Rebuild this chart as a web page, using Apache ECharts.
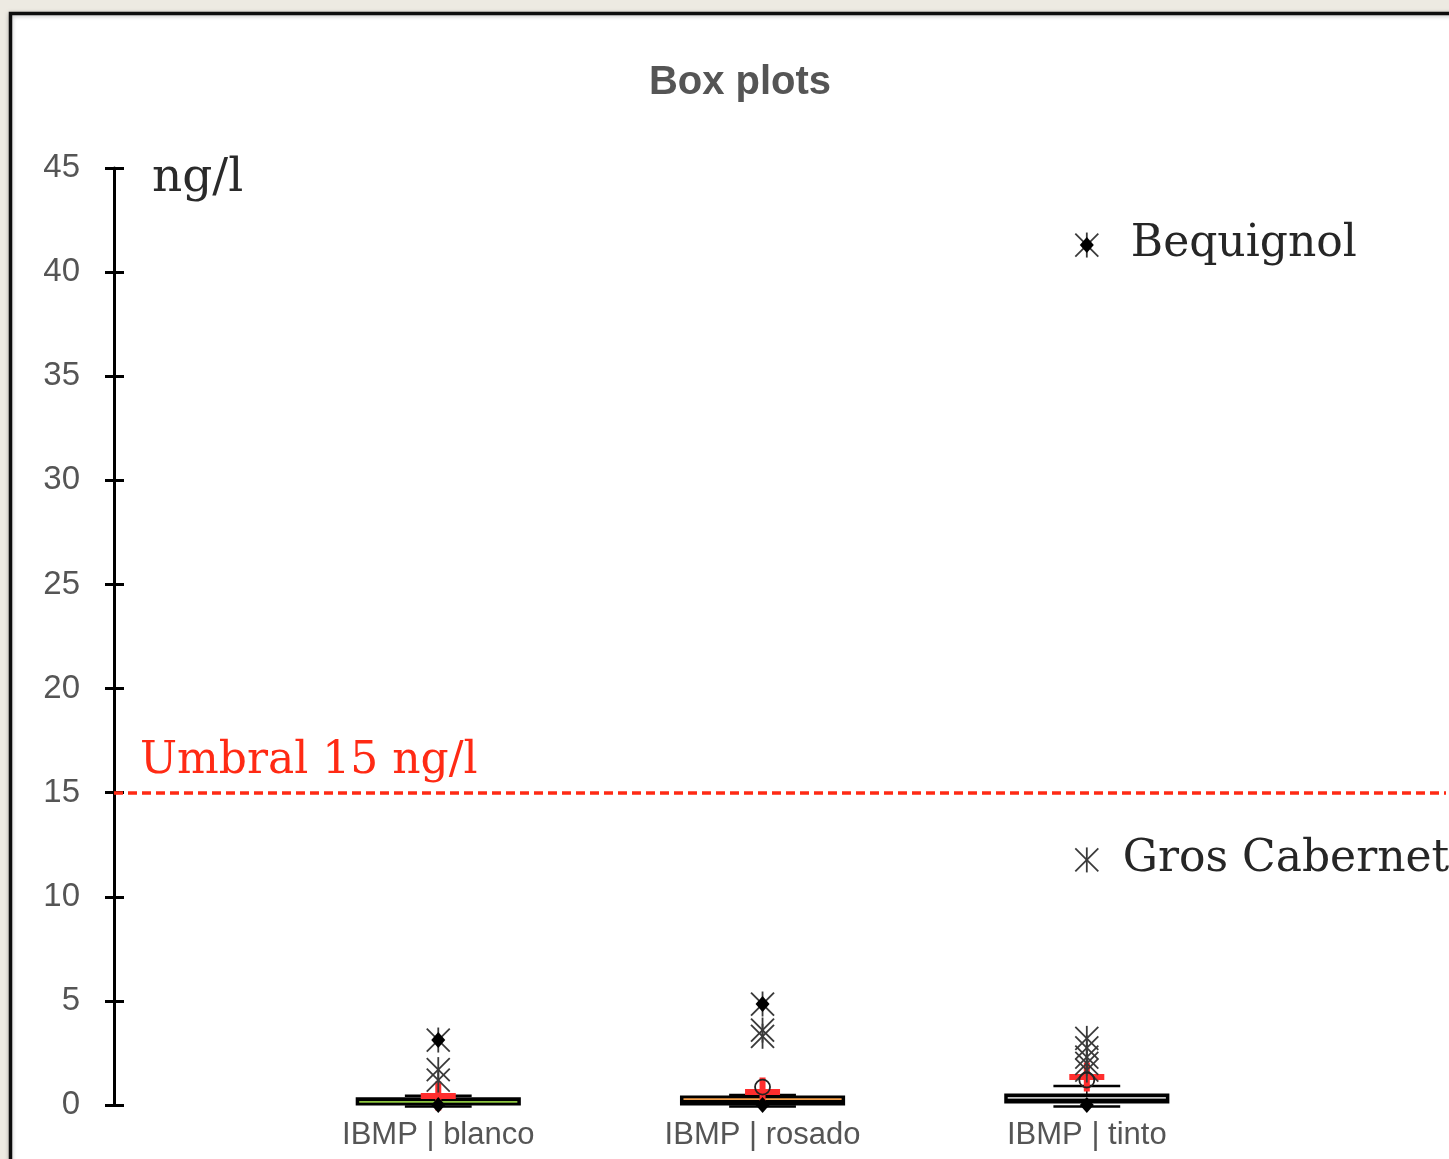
<!DOCTYPE html>
<html>
<head>
<meta charset="utf-8">
<title>Box plots</title>
<script src="https://cdn.jsdelivr.net/npm/echarts@6/dist/echarts.min.js"></script>
<style>
  html, body { margin: 0; padding: 0; background: #edeae2; }
  #chart { width: 1449px; height: 1159px; }
</style>
</head>
<body>
<div id="chart"></div>
<script>
// Groups along the horizontal axis (placed at x = 1, 2, 3)
const categories = ['IBMP | blanco', 'IBMP | rosado', 'IBMP | tinto'];

// Box statistics per group (ng/l)
const lowerWhisker = [0, 0, 0];
const q1 = [0.05, 0.05, 0.14];
const median = [0.15, 0.28, 0.34];
const q3 = [0.30, 0.38, 0.48];
const upperWhisker = [0.45, 0.48, 0.91];
const means = [0.43, 0.62, 1.34];
const minimum = [0, 0, 0];
const maximum = [3.12, 4.85, 41.3];

// Outliers (asterisks) and circled points per group
const outliersBlanco = [3.12, 1.7, 1.2];
const outliersRosado = [4.85, 3.6, 3.3];
const outliersTinto = [41.3, 11.77, 3.2, 2.74, 2.3, 2.0, 1.68];
const circlesBlanco = [];
const circlesRosado = [0.86];
const circlesTinto = [1.2];

// Named samples
const namedSamples = ['Bequignol', 'Gros Cabernet'];
const namedValues = [41.3, 11.77];
const namedGroup = [3, 3];

// Threshold
const threshold = 15;

// Value axis ticks
const yMin = 0, yMax = 45, yStep = 5;

// ---- styling ----
const medianColors = ['#8dc63f', '#f6a14c', '#c4c4c4'];
const namedLabelGap = [44, 36];
const textGray = '#555555';
const sansFont = '"Liberation Sans", Arial, Helvetica, sans-serif';
const serifFont = '"DejaVu Serif", "Liberation Serif", serif';

const xs = categories.map((_, i) => i + 1);
const boxData = xs.map((x, i) => [x, lowerWhisker[i], q1[i], median[i], q3[i], upperWhisker[i], i]);
const meanData = xs.map((x, i) => [x, means[i]]);
const minMaxData = [];
xs.forEach((x, i) => { minMaxData.push([x, minimum[i]]); minMaxData.push([x, maximum[i]]); });
const outlierData = [];
[outliersBlanco, outliersRosado, outliersTinto].forEach((arr, i) => arr.forEach(v => outlierData.push([xs[i], v])));
const circleData = [];
[circlesBlanco, circlesRosado, circlesTinto].forEach((arr, i) => arr.forEach(v => circleData.push([xs[i], v])));
const namedData = namedSamples.map((n, i) => ({
  name: n,
  value: [namedGroup[i], namedValues[i]],
  label: { distance: namedLabelGap[i] }
}));

const chart = echarts.init(document.getElementById('chart'), null, { renderer: 'canvas' });

const option = {
  backgroundColor: '#edeae2',
  animation: false,
  title: {
    text: 'Box plots',
    left: 735,
    top: 58,
    textAlign: 'center',
    textStyle: { fontFamily: sansFont, fontSize: 40, fontWeight: 'bold', color: textGray }
  },
  graphic: [
    {
      type: 'rect', z: -10, silent: true,
      shape: { x: 10.5, y: 13.5, width: 1600, height: 1300 },
      style: { fill: '#ffffff', stroke: '#0d0d0d', lineWidth: 3.5,
               shadowBlur: 4, shadowColor: 'rgba(0,0,0,0.25)', shadowOffsetY: 1 }
    },
    {
      type: 'text', left: 152, top: 155, z: 10,
      style: { text: 'ng/l', fontFamily: serifFont, fontSize: 47, fill: '#2a2a2a' }
    }
  ],
  grid: { left: 114, right: 0, top: 168, bottom: 54, containLabel: false },
  xAxis: {
    type: 'value', min: 0, max: 1335 / 325, interval: 1,
    axisLine: { show: false }, axisTick: { show: false }, splitLine: { show: false },
    axisLabel: {
      margin: 15, color: textGray, fontFamily: sansFont, fontSize: 31,
      formatter: v => (v >= 1 && v <= categories.length && Number.isInteger(v)) ? categories[v - 1] : ''
    }
  },
  yAxis: [
    {
      type: 'value', min: yMin, max: yMax, interval: yStep,
      axisLine: { show: true, lineStyle: { color: '#000', width: 3 } },
      axisTick: { show: true, length: 9, lineStyle: { color: '#000', width: 3 } },
      splitLine: { show: false },
      axisLabel: { margin: 34, color: textGray, fontFamily: sansFont, fontSize: 33 }
    },
    {
      type: 'value', min: yMin, max: yMax, interval: yStep, position: 'left',
      axisLine: { show: false },
      axisTick: { show: true, inside: true, length: 10, lineStyle: { color: '#000', width: 3 } },
      axisLabel: { show: false }, splitLine: { show: false }
    }
  ],
  series: [
    {
      // threshold line and its caption
      type: 'line', data: [], yAxisIndex: 0,
      markLine: {
        silent: true, symbol: 'none', animation: false,
        lineStyle: { color: '#ff2a14', type: [9, 5], width: 3.5 },
        label: {
          show: true, position: 'insideStartTop', distance: [26, 9],
          formatter: 'Umbral ' + threshold + ' ng/l',
          fontFamily: serifFont, fontSize: 44, color: '#ff2a14'
        },
        data: [{ yAxis: threshold }]
      }
    },
    {
      // boxes and whiskers
      type: 'custom', z: 3,
      data: boxData,
      renderItem: (params, api) => {
        const x = api.value(0);
        const i = api.value(6);
        const boxW = api.size([0.5, 0])[0];
        const capW = api.size([0.206, 0])[0];
        const pLow = api.coord([x, api.value(1)]);
        const pQ1 = api.coord([x, api.value(2)]);
        const pMed = api.coord([x, api.value(3)]);
        const pQ3 = api.coord([x, api.value(4)]);
        const pHigh = api.coord([x, api.value(5)]);
        const cx = pQ1[0];
        const blk = { stroke: '#000', lineWidth: 1.5 };
        return {
          type: 'group',
          children: [
            { type: 'line', shape: { x1: cx, y1: pQ3[1], x2: cx, y2: pHigh[1] }, style: blk },
            { type: 'line', shape: { x1: cx, y1: pQ1[1], x2: cx, y2: pLow[1] }, style: blk },
            { type: 'line', shape: { x1: cx - capW / 2, y1: pHigh[1], x2: cx + capW / 2, y2: pHigh[1] }, style: { stroke: '#000', lineWidth: 2.5 } },
            { type: 'line', shape: { x1: cx - capW / 2, y1: pLow[1] + 1.5, x2: cx + capW / 2, y2: pLow[1] + 1.5 }, style: { stroke: '#000', lineWidth: 2.5 } },
            { type: 'rect', shape: { x: cx - boxW / 2, y: pQ3[1], width: boxW, height: pQ1[1] - pQ3[1] },
              style: { fill: '#000', stroke: '#000', lineWidth: 3 } },
            { type: 'line', shape: { x1: cx - boxW / 2 + 2, y1: pMed[1], x2: cx + boxW / 2 - 2, y2: pMed[1] },
              style: { stroke: medianColors[i], lineWidth: 1.8 } }
          ]
        };
      }
    },
    {
      // means: red cross
      type: 'scatter', z: 4,
      data: meanData,
      symbol: 'path://M0,11.5H35V17.5H0Z M14.5,0H20.5V29H14.5Z',
      symbolSize: [35, 29],
      itemStyle: { color: '#ff2d2d', opacity: 1 }
    },
    {
      // outliers: asterisks
      type: 'custom', z: 5,
      data: outlierData,
      renderItem: (params, api) => {
        const p = api.coord([api.value(0), api.value(1)]);
        const h = 11.5;
        const st = { stroke: '#3a3a3a', lineWidth: 1.8 };
        return {
          type: 'group',
          children: [
            { type: 'line', shape: { x1: p[0] - h, y1: p[1] - h, x2: p[0] + h, y2: p[1] + h }, style: st },
            { type: 'line', shape: { x1: p[0] + h, y1: p[1] - h, x2: p[0] - h, y2: p[1] + h }, style: st },
            { type: 'line', shape: { x1: p[0], y1: p[1] - h - 1, x2: p[0], y2: p[1] + h + 1 }, style: st }
          ]
        };
      }
    },
    {
      // circled points
      type: 'scatter', z: 6,
      data: circleData,
      symbol: 'circle', symbolSize: 15,
      itemStyle: { color: 'rgba(0,0,0,0)', borderColor: '#222', borderWidth: 1.8, opacity: 1 }
    },
    {
      // minimum and maximum
      type: 'scatter', z: 7,
      data: minMaxData,
      symbol: 'diamond', symbolSize: [14, 16],
      itemStyle: { color: '#000', opacity: 1 }
    },
    {
      // sample names
      type: 'scatter', z: 8,
      data: namedData,
      symbolSize: 0,
      itemStyle: { opacity: 1 },
      label: {
        show: true, position: 'right', opacity: 1,
        formatter: p => p.name,
        fontFamily: serifFont, fontSize: 44, color: '#262626'
      }
    }
  ]
};

chart.setOption(option);
</script>
</body>
</html>
